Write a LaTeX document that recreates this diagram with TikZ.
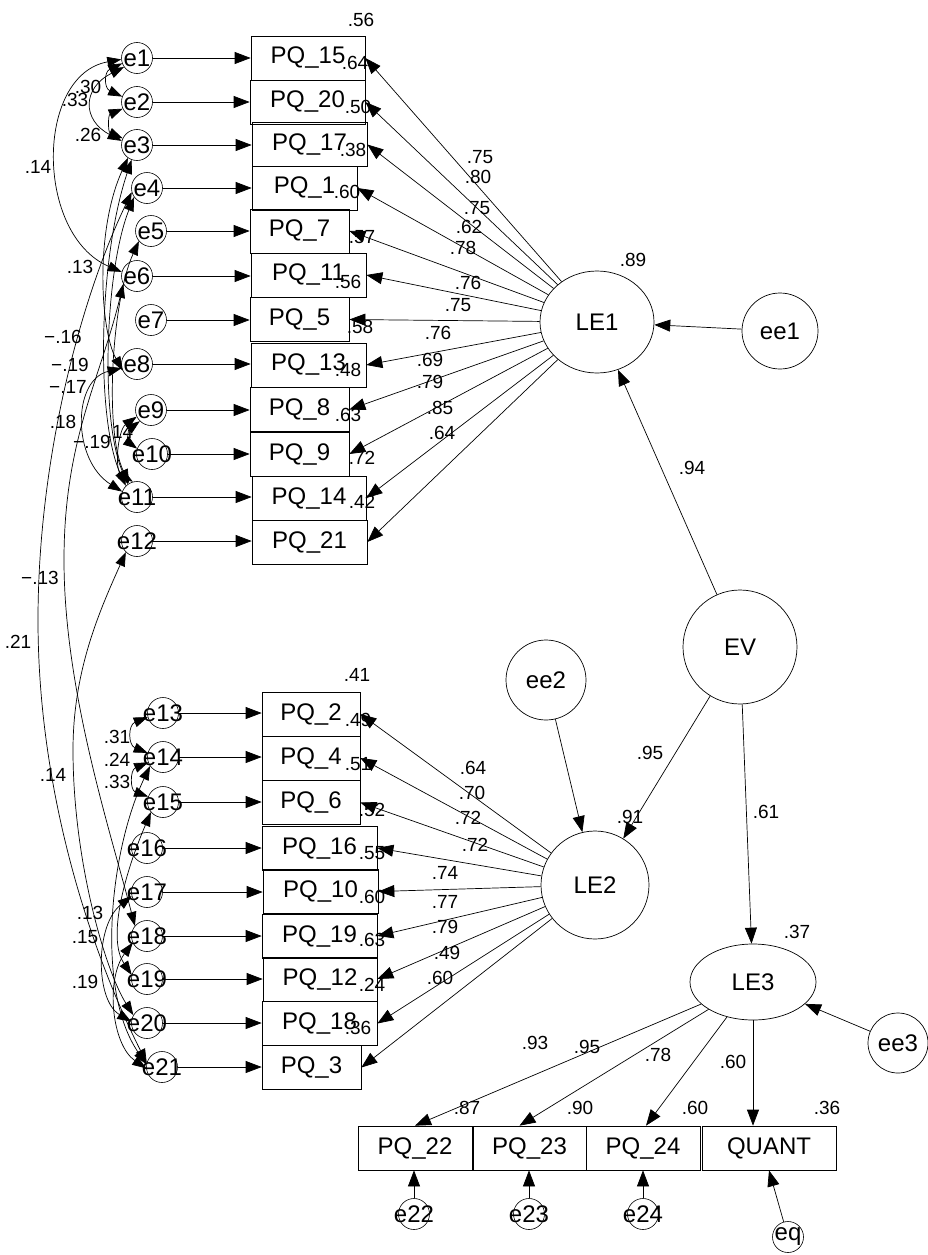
\documentclass[tikz,border=0pt]{standalone}
\usepackage{fontspec}
\setmainfont{Liberation Sans}
\usetikzlibrary{arrows.meta,shapes.geometric}
\begin{document}
\begin{tikzpicture}[x=1pt,y=-1pt,
  every node/.style={inner sep=0pt},
  box/.style={draw, line width=0.7pt, minimum height=44pt, font=\fontsize{24}{24}\selectfont},
  err/.style={draw, circle, line width=0.6pt, minimum size=31pt},
  etxt/.style={font=\fontsize{24}{24}\selectfont},
  lat/.style={draw, circle, line width=0.7pt, font=\fontsize{24}{24}\selectfont},
  lab/.style={font=\fontsize{19}{19}\selectfont},
  arr/.style={line width=0.7pt, -{Triangle[length=16pt,width=12pt]}},
  cov/.style={line width=0.7pt, {Triangle[length=14pt,width=10pt]}-{Triangle[length=14pt,width=10pt]}},
]
\useasboundingbox (0,0) rectangle (928,1255);
\fill[white] (0,0) rectangle (928,1255);

% latent variables
\node[lat, ellipse, minimum width=114pt, minimum height=102pt] (LE1) at (597,322) {LE1};
\node[lat, minimum size=108pt] (LE2) at (595,885) {LE2};
\node[lat, ellipse, minimum width=126pt, minimum height=76pt] (LE3) at (753,982) {LE3};
\node[lat, minimum size=114pt] (EV) at (740,647) {EV};
\node[lat, minimum size=76pt] (ee1) at (780,331) {ee1};
\node[lat, minimum size=80pt] (ee2) at (546,680) {ee2};
\node[lat, minimum size=60pt] (ee3) at (898,1043) {ee3};

% boxes
\foreach \n/\x/\y/\w in {15/308/58/114, 20/307.5/102/115, 17/309.5/144.5/115, 1/304.5/188/105,
  7/299.5/231/99, 11/308.5/275/115, 5/299.5/319.5/99, 13/308.5/365/115, 8/299.5/409.5/99,
  9/299.5/454/99, 14/309/498/114, 21/309.5/542/115,
  2/311/714/98, 4/311/758/98, 6/311/802.5/98, 16/319.5/848/115, 10/320.5/891.5/115,
  19/319.5/936/115, 12/320/979/114, 18/319.5/1023.5/115, 3/311.5/1067.5/99,
  22/415/1148/114, 23/529.5/1148/113, 24/643/1148/114}
  \node[box, minimum width=\w pt] (P\n) at (\x,\y) {PQ\_\n};
\node[box, minimum width=134pt] (QU) at (769,1148) {QUANT};

% error terms
\foreach \n/\x/\y in {1/137/58, 2/137/102, 3/137/145, 4/147/188, 5/151/231, 6/137/276,
  7/151/320, 8/137/364, 9/151/410, 10/152/454, 11/137/497, 12/137/541,
  13/163/713, 14/163/757, 15/163/802, 16/147/848, 17/147/892, 18/147/936,
  19/147/979, 20/147/1023, 21/162/1067, 22/414/1214, 23/529/1214, 24/643/1214}
  \node[err, label={[etxt]center:e\n}] (e\n) at (\x,\y) {};
\node[err, label={[etxt]center:eq}] (eq) at (788,1237) {};

% error -> indicator
\foreach \e/\p in {1/15,2/20,3/17,4/1,5/7,6/11,7/5,8/13,9/8,10/9,11/14,12/21,
  13/2,14/4,15/6,16/16,17/10,18/19,19/12,20/18,21/3}
  \draw[arr] (e\e) -- (e\e -| P\p.west);
\foreach \e in {22,23,24}
  \draw[arr] (e\e) -- (e\e |- P\e.south);
\draw[arr] (eq) -- (QU.south);

% loadings
\foreach \p in {15,20,17,1,7,11,5,13,8,9,14,21}
  \draw[arr] (LE1) -- (P\p.east);
\foreach \p in {2,4,6,16,10,19,12,18,3}
  \draw[arr] (LE2) -- (P\p.east);
\draw[arr] (LE3) -- (P22.north);
\draw[arr] (LE3) -- ([xshift=-10pt]P23.north);
\draw[arr] (LE3) -- ([xshift=3pt]P24.north);
\draw[arr] (LE3.south) -- (LE3.south |- QU.north);

% structural
\draw[arr] (EV) -- (LE1);
\draw[arr] (EV) -- (LE2);
\draw[arr] (EV) -- (LE3);
\draw[arr] (ee1) -- (LE1);
\draw[arr] (ee2) -- (LE2);
\draw[arr] (ee3) -- (LE3);

% covariances block 1
\draw[cov] (e1.200) .. controls (104,72) and (104,88) .. (e2.160);
\draw[cov] (e1.215) .. controls (82,88) and (82,120) .. (e3.165);
\draw[cov] (e2.205) .. controls (108,115) and (108,132) .. (e3.155);
\draw[cov] (e1.185) .. controls (35,75) and (35,235) .. (e6.165);
\draw[cov] (e3.235) .. controls (95,230) and (100,330) .. (e8.205);
\draw[cov] (e4.215) .. controls (105,270) and (100,420) .. (e11.125);
\draw[cov] (e5.220) .. controls (112,300) and (104,430) .. (e11.120);
\draw[cov] (e3.250) .. controls (98,260) and (96,420) .. (e11.135);
\draw[cov] (e8.195) .. controls (72,380) and (72,460) .. (e11.160);
\draw[cov] (e9.205) .. controls (118,430) and (114,470) .. (e11.105);
\draw[cov] (e9.225) .. controls (128,430) and (128,442) .. (e10.160);
% long covariances
\draw[cov] (e4.195) .. controls (80,300) and (38,460) .. (38,620) .. controls (38,800) and (95,960) .. (e21.165);
\draw[cov] (e6.210) .. controls (100,380) and (64,440) .. (64,560) .. controls (64,690) and (110,830) .. (e18.140);
\draw[cov] (e12.225) .. controls (100,610) and (73,670) .. (73,750) .. controls (73,860) and (105,970) .. (e20.150);
% covariances block 2
\draw[cov] (e13.195) .. controls (128,725) and (128,745) .. (e14.165);
\draw[cov] (e14.200) .. controls (130,770) and (130,790) .. (e15.160);
\draw[cov] (e14.215) .. controls (110,850) and (95,990) .. (e21.170);
\draw[cov] (e15.220) .. controls (122,880) and (108,940) .. (e19.165);
\draw[cov] (e17.195) .. controls (95,925) and (95,1000) .. (e20.175);
\draw[cov] (e18.205) .. controls (105,980) and (112,1045) .. (e21.185);

% labels
\foreach [count=\i] \x/\y/\t in {
  88/87/.30, 75/100/.33, 88/135/.26, 38/167/.14, 80/267/.13, 63/337/−.16, 70/365/−.19,
  68/387/−.17, 63/422/.18, 92/442/−.19, 120/432/.14, 40/578/−.13, 18/642/.21, 53/775/.14,
  117/737/.31, 117/760/.24, 117/782/.33, 90/913/.13, 85/937/.15, 85/982/.19,
  480/157/.75, 478/177/.80, 477/208/.75, 469/227/.62, 463/248/.78, 468/283/.76,
  458/305/.75, 438/333/.76, 430/360/.69, 430/382/.79, 440/408/.85, 442/433/.64,
  361/20/.56, 355/63/.64, 358/107/.50, 353/150/.38, 347/192/.60, 362/237/.57,
  348/282/.56, 360/327/.58, 348/370/.48, 348/415/.63, 362/458/.72, 362/502/.42,
  473/768/.64, 472/793/.70, 468/818/.72, 475/845/.72, 445/873/.74, 445/902/.77,
  445/927/.79, 447/953/.49, 440/978/.60,
  357/675/.41, 358/720/.49, 358/764/.51, 372/810/.52, 372/853/.55, 372/897/.60,
  372/940/.63, 372/985/.24, 358/1028/.36,
  633/260/.89, 692/468/.94, 650/753/.95, 630/817/.91, 766/812/.61, 797/932/.37,
  535/1043/.93, 587/1047/.95, 658/1055/.78, 733/1062/.60,
  467/1108/.87, 580/1108/.90, 695/1108/.60, 827/1108/.36}
  \node[lab] (L\i) at (\x,\y) {\t};
\end{tikzpicture}
\end{document}
